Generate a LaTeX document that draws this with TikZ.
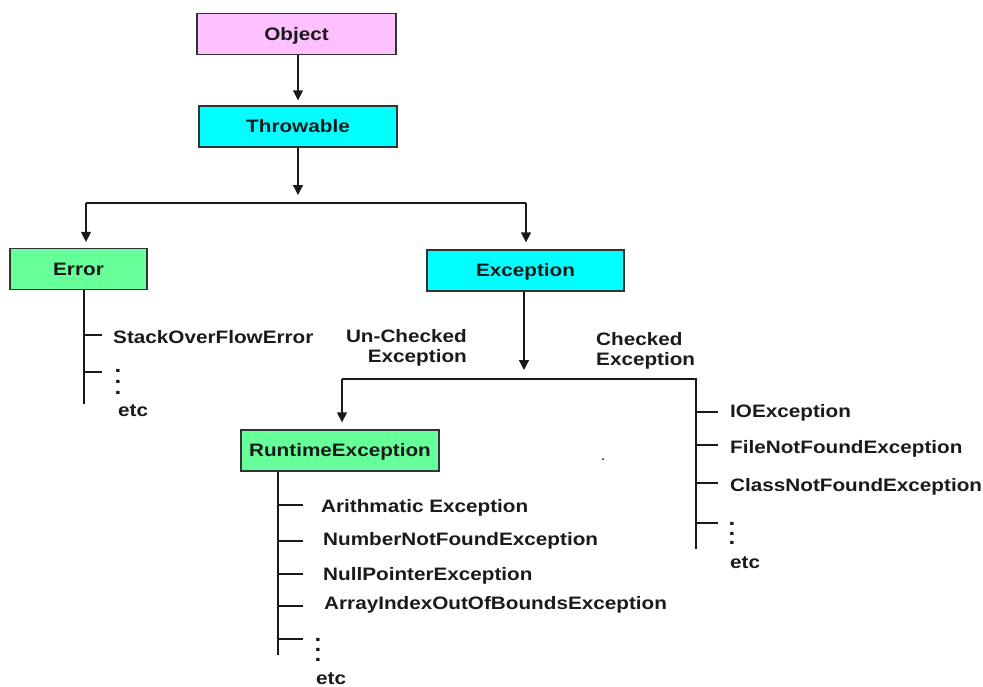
\documentclass[tikz,border=0pt]{standalone}
\usepackage{fontspec}
\setmainfont{Liberation Sans}[FakeStretch=1.15]
\usetikzlibrary{arrows.meta}
\definecolor{objfill}{HTML}{FFC0FF}
\definecolor{cyanfill}{HTML}{00FFFF}
\definecolor{greenfill}{HTML}{66FF99}
\definecolor{ink}{HTML}{1A1A1A}
\definecolor{edge}{HTML}{333333}
% a column of three full stops
\newcommand{\dotcolumn}[1]{\vbox{\baselineskip=#1\lineskiplimit=-100pt
  \hbox{.}\hbox{.}\hbox{.}}}
\begin{document}
\begin{tikzpicture}[x=1pt,y=-1pt,
  every node/.style={font=\fontsize{18}{20}\selectfont\bfseries, text=ink},
  classbox/.style={draw=edge, line width=1.3pt, minimum height=41pt, inner sep=0pt,
    text height=12.9pt, text depth=0pt, anchor=center},
  leaf/.style={anchor=base west, inner sep=0pt},
  vdots/.style={anchor=north, inner sep=0pt,
    font=\fontsize{21}{11}\selectfont\bfseries},
  wire/.style={draw=ink, line width=1.3pt},
  arr/.style={wire, -{Triangle[length=10pt,width=10pt]}},
]
\useasboundingbox (0,0) rectangle (983,686);

% class boxes
\node[classbox, fill=objfill,   minimum width=199pt] (obj) at (296.5,34)  {Object};
\node[classbox, fill=cyanfill,  minimum width=198pt] (thr) at (298,126.5) {Throwable};
\node[classbox, fill=greenfill, minimum width=137pt] (err) at (78.5,269)  {Error};
\node[classbox, fill=cyanfill,  minimum width=197pt] (exc) at (525.5,270.5) {Exception};
\node[classbox, fill=greenfill, minimum width=198pt] (rte) at (340,450.5) {RuntimeException};

% Object -> Throwable
\draw[arr, shorten >=5pt] (obj.south -| 298,0) -- (thr.north -| 298,0);

% Throwable -> Error / Exception
\coordinate (tsplit) at (298,195);
\coordinate (jl) at (86,203);
\coordinate (jr) at (526,203);
\draw[arr] (thr.south -| tsplit) -- (tsplit);
\draw[wire] (jl) -- (jr);
\draw[arr, shorten >=6pt] (jl) -- (jl |- err.north);
\draw[arr, shorten >=7pt] (jr) -- (jr |- exc.north);

% Error subclasses
\coordinate (etop) at (84,290);
\coordinate (ebot) at (84,404);
\draw[wire] (etop |- err.south) -- (ebot);
\draw[wire] (84,335) -- (102,335);
\draw[wire] (84,372) -- (102,372);
\node[leaf] (soe) at (113,343) {StackOverFlowError};
\node[vdots] (edots) at (118,369.5) {\dotcolumn{11pt}};
\node[leaf] (eetc) at (118,416) {etc};

% Exception -> checked / unchecked
\coordinate (xsplit) at (524,370);
\coordinate (ul) at (342,379);
\coordinate (ur) at (696,379);
\coordinate (urb) at (696,549);
\draw[arr] (exc.south -| xsplit) -- (xsplit);
\draw[wire] (ul) -- (ur) -- (urb);
\draw[arr, shorten >=7pt] (ul) -- (ul |- rte.north);
\node[anchor=north east, inner sep=0pt, align=right,
      font=\fontsize{18}{20}\selectfont\bfseries] (unchk) at (467,329.5) {Un-Checked\\Exception};
\node[anchor=north west, inner sep=0pt, align=left,
      font=\fontsize{18}{20}\selectfont\bfseries] (chk) at (596,332) {Checked\\Exception};
\fill[ink] (603,459) circle (1pt);

% checked exceptions
\draw[wire] (696,412) -- (718,412);
\draw[wire] (696,445) -- (718,445);
\draw[wire] (696,483) -- (718,483);
\draw[wire] (696,523) -- (718,523);
\node[leaf] (ioe)  at (730,417) {IOException};
\node[leaf] (fnfe) at (730,453) {FileNotFoundException};
\node[leaf] (cnfe) at (730,491) {ClassNotFoundException};
\node[vdots] (cdots) at (732,522.5) {\dotcolumn{9.5pt}};
\node[leaf] (cetc) at (730,568) {etc};

% runtime exceptions
\coordinate (rbot) at (278,655);
\draw[wire] (rbot |- rte.south) -- (rbot);
\draw[wire] (278,505) -- (303,505);
\draw[wire] (278,541) -- (303,541);
\draw[wire] (278,574) -- (303,574);
\draw[wire] (278,606) -- (303,606);
\draw[wire] (278,639) -- (303,639);
\node[leaf] (arith) at (321,512) {Arithmatic Exception};
\node[leaf] (nnfe)  at (323,545) {NumberNotFoundException};
\node[leaf] (npe)   at (323,580) {NullPointerException};
\node[leaf] (aioobe) at (324,609) {ArrayIndexOutOfBoundsException};
\node[vdots] (rdots) at (318,638.5) {\dotcolumn{10pt}};
\node[leaf] (retc) at (316,684) {etc};
\end{tikzpicture}
\end{document}
